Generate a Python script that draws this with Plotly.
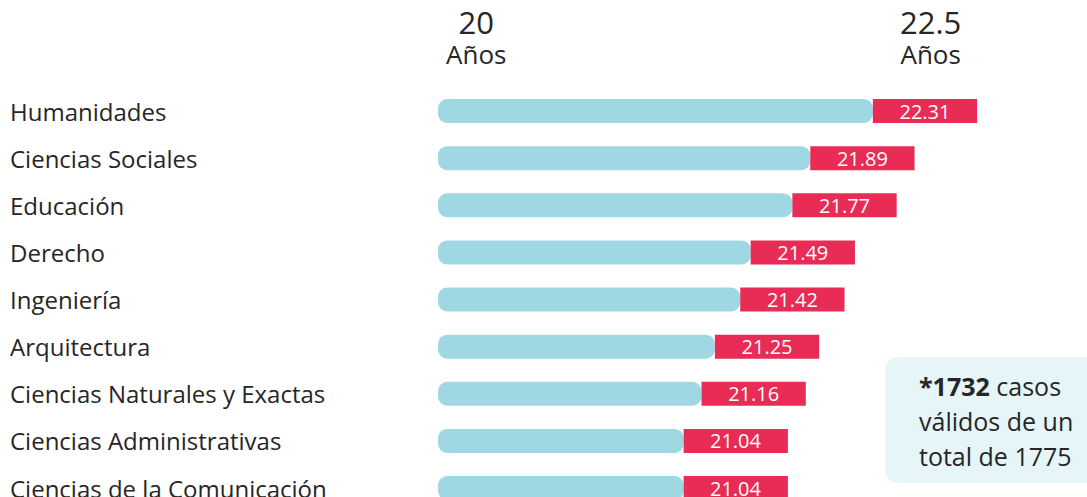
import plotly.graph_objects as go

# ---- data ----
categories = [
    "Humanidades",
    "Ciencias Sociales",
    "Educación",
    "Derecho",
    "Ingeniería",
    "Arquitectura",
    "Ciencias Naturales y Exactas",
    "Ciencias Administrativas",
    "Ciencias de la Comunicación",
]
values = [22.31, 21.89, 21.77, 21.49, 21.42, 21.25, 21.16, 21.04, 21.04]
header_labels = ["20", "22.5"]
note_lines = ["<b>*1732</b> casos", "válidos de un", "total de 1775"]

# ---- layout constants ----
W, H = 1087, 497
PX_PER_UNIT = 149.0
X0 = 16.452
X1 = X0 + W / PX_PER_UNIT
BAR_START = 19.392
LABEL_W = 0.70
ROW0_PX, ROW_STEP = 111.0, 47.125
Y_TOP = -ROW0_PX / ROW_STEP
Y_BOT = (H - ROW0_PX) / ROW_STEP
BAR_W = 24 / ROW_STEP

FONT = "Open Sans"
DARK = "#262626"
BLUE = "#9fd7e2"
RED = "#e82c55"

idx = list(range(len(categories)))

fig = go.Figure()
fig.add_trace(go.Bar(
    orientation="h", y=idx, base=values,
    x=[BAR_START - v for v in values],
    width=BAR_W,
    marker=dict(color=BLUE, cornerradius=9, line=dict(width=0)),
    hoverinfo="skip", showlegend=False,
))
fig.add_trace(go.Bar(
    orientation="h", y=idx, base=values,
    x=[LABEL_W] * len(values),
    width=BAR_W,
    text=[f"{v:.2f}" for v in values],
    textposition="inside", insidetextanchor="middle", textangle=0,
    constraintext="none",
    textfont=dict(color="white", size=20, family=FONT),
    marker=dict(color=RED, line=dict(width=0)),
    hoverinfo="skip", showlegend=False,
))

annotations = []
for i, c in enumerate(categories):
    annotations.append(dict(
        x=8 / W, xref="paper", xanchor="left",
        y=i, yref="y", yanchor="middle",
        text=c, showarrow=False,
        font=dict(family=FONT, size=24, color=DARK),
    ))

for lab, cx in zip(header_labels, [476, 930]):
    annotations.append(dict(
        x=cx / W, xref="paper", xanchor="center",
        y=1 - 36 / H, yref="paper", yanchor="middle",
        text=(f"<span style='font-size:31px'>{lab}</span><br>"
              f"<span style='font-size:26px'>Años</span>"),
        showarrow=False, align="center",
        font=dict(family=FONT, size=23, color=DARK),
    ))

for k, line in enumerate(note_lines):
    annotations.append(dict(
        x=917 / W, xref="paper", xanchor="left",
        y=1 - (386 + 35 * k) / H, yref="paper", yanchor="middle",
        text=line, showarrow=False,
        font=dict(family=FONT, size=25, color=DARK),
    ))

# rounded note box (decoration)
bx0, bx1 = 885 / W, 1.05
by0, by1 = 1 - 483 / H, 1 - 357 / H
rx, ry = 16 / W, 16 / H
path = (f"M {bx0+rx},{by1} L {bx1},{by1} L {bx1},{by0} L {bx0+rx},{by0} "
        f"Q {bx0},{by0} {bx0},{by0+ry} L {bx0},{by1-ry} Q {bx0},{by1} {bx0+rx},{by1} Z")
shapes = [dict(type="path", xref="paper", yref="paper", path=path,
               fillcolor="#e6f5f7", line=dict(width=0), layer="below")]

fig.update_layout(
    width=W, height=H,
    margin=dict(l=0, r=0, t=0, b=0),
    paper_bgcolor="white", plot_bgcolor="white",
    barmode="overlay",
    xaxis=dict(range=[X0, X1], visible=False, fixedrange=True),
    yaxis=dict(range=[Y_BOT, Y_TOP], visible=False, fixedrange=True),
    annotations=annotations,
    shapes=shapes,
    font=dict(family=FONT),
)

fig.write_html(
    "out.html",
    config={"displayModeBar": False},
    post_script="document.body.style.margin='0';document.body.style.overflow='hidden';",
)
